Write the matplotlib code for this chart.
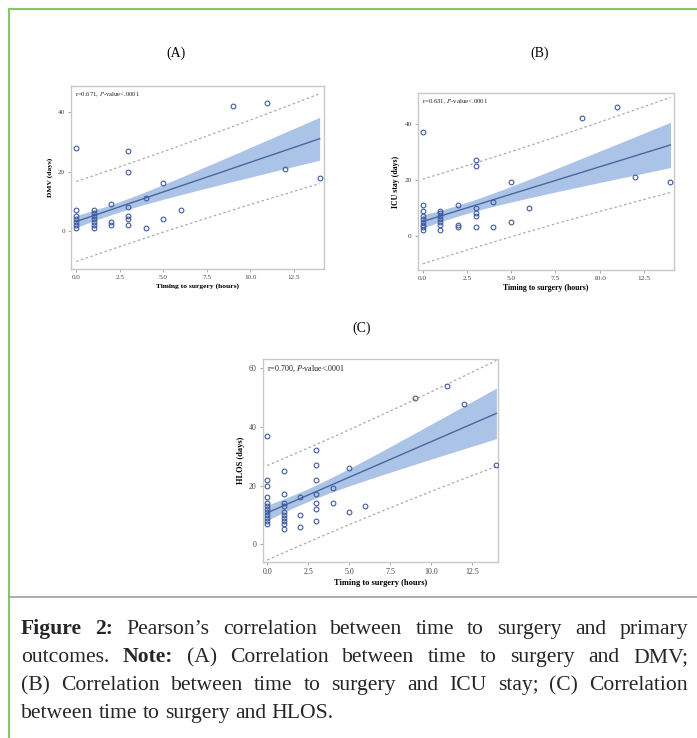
import numpy as np
import matplotlib
matplotlib.use("Agg")
import matplotlib.pyplot as plt
from matplotlib.lines import Line2D

plt.rcParams['font.family'] = ['Liberation Serif', 'DejaVu Serif']
plt.rcParams['mathtext.fontset'] = 'stix'

# timing to surgery (hours), outcome (days) and estimated number of
# overlapping patients behind each marker
dmv_x = [0, 0, 0, 0, 0, 0, 0,
         1, 1, 1, 1, 1, 1, 1,
         2, 2, 2,
         3, 3, 3, 3, 3, 3,
         4, 4, 5, 5, 6, 9, 11, 12, 14]
dmv_y = [1, 2, 3, 4, 5, 7, 28,
         1, 2, 3, 4, 5, 6, 7,
         2, 3, 9,
         2, 4, 5, 8, 20, 27,
         1, 11, 4, 16, 7, 42, 43, 21, 18]
dmv_n = [3, 4, 4, 4, 3, 2, 1,
         3, 3, 3, 4, 3, 3, 3,
         1, 1, 1,
         1, 1, 1, 1, 1, 1,
         1, 1, 1, 1, 1, 1, 1, 1, 1]

icu_x = [0, 0, 0, 0, 0, 0, 0, 0, 0,
         1, 1, 1, 1, 1, 1, 1,
         2, 2, 2,
         3, 3, 3, 3, 3, 3,
         4, 4, 5, 5, 6, 9, 11, 12, 14]
icu_y = [2, 3, 4, 5, 6, 7, 9, 11, 37,
         2, 4, 5, 6, 7, 8, 9,
         3, 4, 11,
         3, 7, 8, 10, 25, 27,
         3, 12, 5, 19, 10, 42, 46, 21, 19]
icu_n = [4, 4, 3, 3, 3, 2, 1, 1, 1,
         3, 2, 3, 3, 3, 2, 2,
         1, 1, 1,
         1, 1, 1, 1, 1, 1,
         1, 1, 1, 1, 1, 1, 1, 1, 1]

hlos_x = [0, 0, 0, 0, 0, 0, 0, 0, 0, 0, 0, 0,
          1, 1, 1, 1, 1, 1, 1, 1, 1, 1,
          2, 2, 2,
          3, 3, 3, 3, 3, 3, 3,
          4, 4, 5, 5, 6, 9, 11, 12, 14]
hlos_y = [7, 8, 9, 10, 11, 12, 13, 14, 16, 20, 22, 37,
          5, 7, 8, 9, 10, 11, 13, 14, 17, 25,
          6, 10, 16,
          8, 12, 14, 17, 22, 27, 32,
          14, 19, 11, 26, 13, 50, 54, 48, 27]
hlos_n = [2, 2, 2, 2, 2, 2, 2, 1, 1, 1, 1, 1,
          1, 2, 2, 2, 2, 2, 2, 1, 1, 1,
          1, 1, 1,
          1, 1, 1, 1, 1, 1, 1,
          1, 1, 1, 1, 1, 1, 1, 1, 1]

panel_titles = ["(A)", "(B)", "(C)"]
y_labels = ["DMV (days)", "ICU stay (days)", "HLOS (days)"]
r_values = ["0.671", "0.631", "0.700"]
y_ticks = [[0, 20, 40], [0, 20, 40], [0, 20, 40, 60]]
x_ticks = [0, 2.5, 5, 7.5, 10, 12.5]

W, H = 697, 738
fig = plt.figure(figsize=(W / 100, H / 100), dpi=100)


def px_box(l, t, r, b):
    return [l / W, 1 - b / H, (r - l) / W, (b - t) / H]


def regplot(ax, x, y, counts, tcrit=2.0):
    # fit on all patients, draw one marker per distinct value
    xa = np.repeat(np.asarray(x, float), counts)
    ya = np.repeat(np.asarray(y, float), counts)
    n = len(xa)
    slope, icpt = np.polyfit(xa, ya, 1)
    resid = ya - (icpt + slope * xa)
    s = np.sqrt(np.sum(resid ** 2) / (n - 2))
    sxx = np.sum((xa - xa.mean()) ** 2)
    xs = np.linspace(xa.min(), xa.max(), 200)
    fit = icpt + slope * xs
    se_m = s * np.sqrt(1 / n + (xs - xa.mean()) ** 2 / sxx)
    se_p = s * np.sqrt(1 + 1 / n + (xs - xa.mean()) ** 2 / sxx)
    ax.fill_between(xs, fit - tcrit * se_m, fit + tcrit * se_m,
                    color='#abc3e6', lw=0, zorder=1)
    ax.plot(xs, fit, color='#4a6799', lw=1.0, zorder=3)
    for sign in (-1, 1):
        ax.plot(xs, fit + sign * tcrit * se_p, color='#ababab', lw=0.9,
                dashes=(2, 2), zorder=2)
    ax.plot(x, y, 'o', mfc='none', mec='#3f5aa0', ms=3.4, mew=0.8, zorder=4)


def style(ax, idx, lab_fs, ann_fs):
    for sp in ax.spines.values():
        sp.set_color('#c8c8c8')
        sp.set_linewidth(1.0)
    ax.set_xticks(x_ticks)
    ax.set_xticklabels([f"{v:.1f}" for v in x_ticks])
    ax.set_yticks(y_ticks[idx])
    ax.tick_params(length=2.5, width=0.6, color='#999999', labelsize=lab_fs - 0.3,
                   labelcolor='#444444', pad=2)
    ax.set_xlabel("Timing to surgery (hours)", fontsize=lab_fs, fontweight='bold',
                  labelpad=2)
    ax.set_ylabel(y_labels[idx], fontsize=lab_fs, fontweight='bold', labelpad=3)
    ax.text(0.015, 0.975, f"r={r_values[idx]}, $\\it{{P}}$-value<.0001",
            transform=ax.transAxes, ha='left', va='top', fontsize=ann_fs,
            color='#222222')


axA = fig.add_axes(px_box(71, 86, 324, 269))
regplot(axA, dmv_x, dmv_y, dmv_n)
axA.set_xlim(-0.3, 14.25)
axA.set_ylim(-12.7, 48.7)
style(axA, 0, 5.4, 4.8)

axB = fig.add_axes(px_box(418, 93, 674, 270))
regplot(axB, icu_x, icu_y, icu_n)
axB.set_xlim(-0.26, 14.2)
axB.set_ylim(-12.2, 50.9)
style(axB, 1, 5.6, 4.9)

axC = fig.add_axes(px_box(263, 359, 498, 562))
regplot(axC, hlos_x, hlos_y, hlos_n)
axC.set_xlim(-0.26, 14.1)
axC.set_ylim(-6.1, 63.2)
style(axC, 2, 6.0, 5.8)

fig.text(176 / W, 1 - 53 / H, panel_titles[0], ha='center', va='center', fontsize=10)
fig.text(540 / W, 1 - 53 / H, panel_titles[1], ha='center', va='center', fontsize=10)
fig.text(362 / W, 1 - 328 / H, panel_titles[2], ha='center', va='center', fontsize=10)

# green frame (top and left) and grey separator above the caption
fig.add_artist(Line2D([9 / W, 1], [1 - 9 / H, 1 - 9 / H], color='#8cc46e', lw=1.5))
fig.add_artist(Line2D([9 / W, 9 / W], [0, 1 - 9 / H], color='#8cc46e', lw=1.5))
fig.add_artist(Line2D([9 / W, 1], [1 - 597 / H, 1 - 597 / H], color='#9d9daa', lw=1.2))

# caption, justified like the journal text
caption_lines = [
    [("Figure 2:", True), ("Pearson’s correlation between time to surgery and primary", False)],
    [("outcomes.", False), ("Note:", True), ("(A) Correlation between time to surgery and DMV;", False)],
    [("(B) Correlation between time to surgery and ICU stay; (C) Correlation", False)],
    [("between time to surgery and HLOS.", False)],
]
cap_base = [634, 662, 690, 718]
cap_left, cap_right = 21, 688
cap_fs = 15.6
renderer = fig.canvas.get_renderer()

for li, segs in enumerate(caption_lines):
    words = []
    for txt, bold in segs:
        for w in txt.split():
            words.append((w, bold))
    arts = []
    widths = []
    for w, bold in words:
        t = fig.text(0, 1 - cap_base[li] / H, w, fontsize=cap_fs, va='baseline', ha='left',
                     fontweight='bold' if bold else 'normal', color='#262626')
        arts.append(t)
        widths.append(t.get_window_extent(renderer).width)
    if li < len(caption_lines) - 1:
        gap = (cap_right - cap_left - sum(widths)) / (len(words) - 1)
    else:
        gap = cap_fs * 0.25 * 100 / 72
    x = cap_left
    for t, wd in zip(arts, widths):
        t.set_x(x / W)
        x += wd + gap

fig.savefig("out.png", dpi=100)
